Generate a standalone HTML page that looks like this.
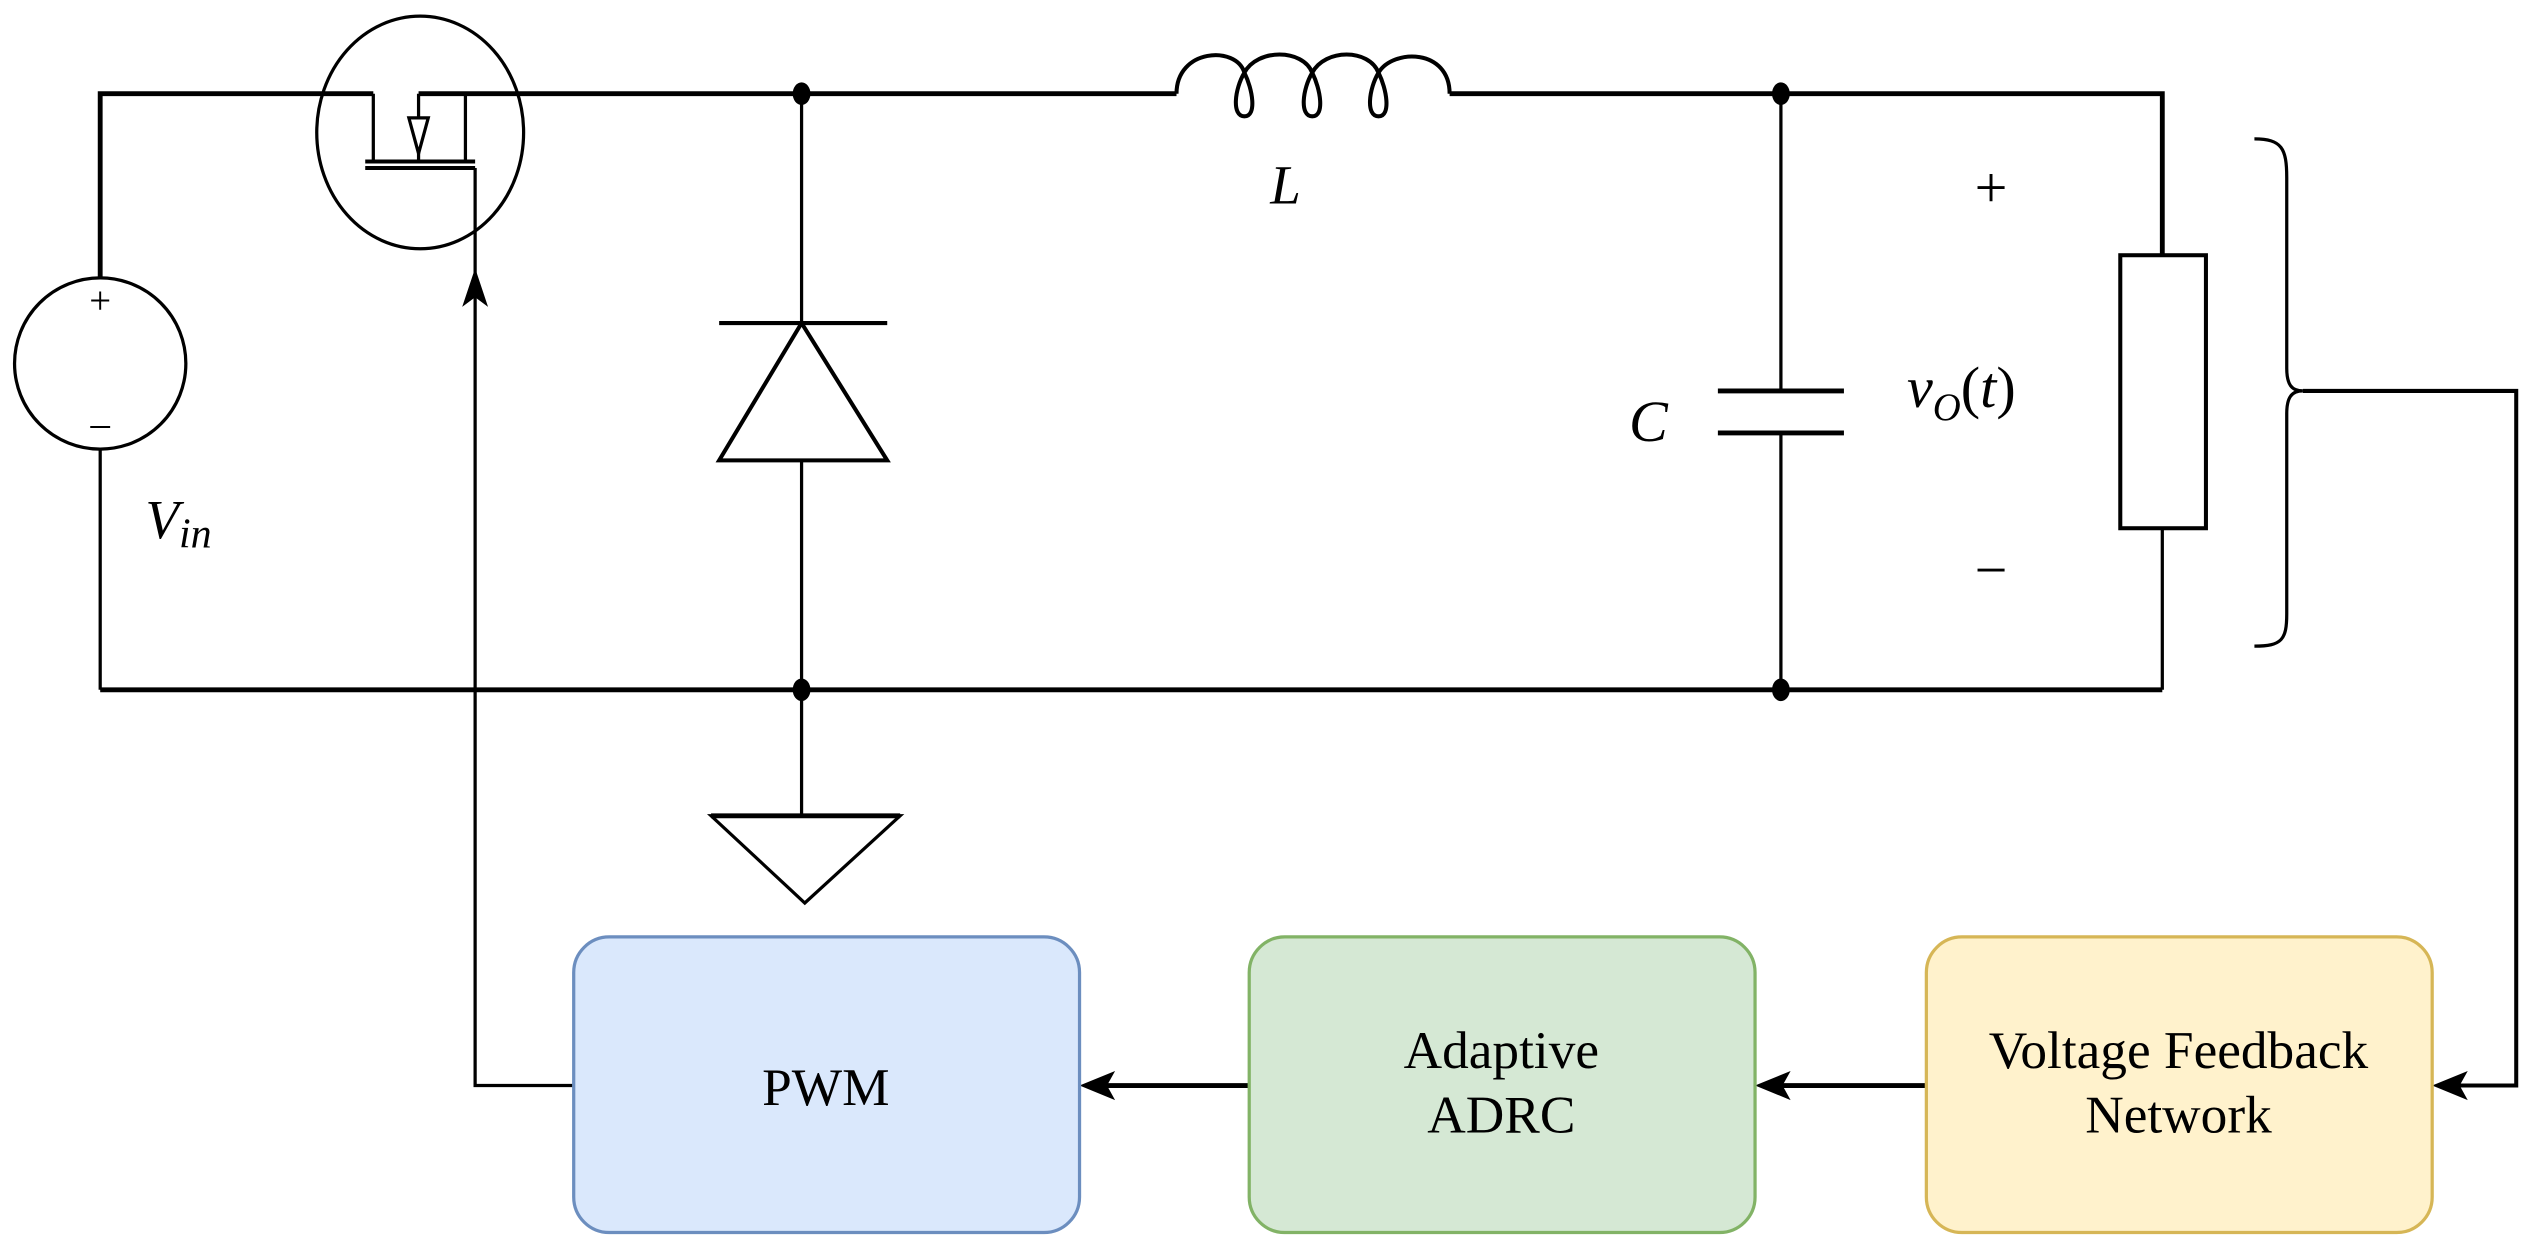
<!DOCTYPE html>
<html><head><meta charset="utf-8"><style>html,body{margin:0;padding:0;background:#fff}svg{display:block}</style></head>
<body>
<svg width="2534" height="1260" viewBox="0 0 1568 780" preserveAspectRatio="none" xmlns="http://www.w3.org/2000/svg">
<g fill="none" stroke="#000" stroke-width="2">
<path d="M62 172 V58 H231 M259 58 H728 M897 58 H1338 V158" stroke-width="3"/>
<path d="M62 277 V427 M1338 327 V427"/>
<path d="M62 427 H1338" stroke-width="3"/>
<circle cx="62" cy="225" r="53"/>
<ellipse cx="260" cy="82" rx="64" ry="72"/>
<path d="M231 58 V100 M288 58 V100 M259 58 V100"/>
<path d="M253 73 L265 73 L259 95 Z" fill="#fff"/>
<path d="M226 100 H294 M226 104 H294" stroke-width="2.5"/>
<path d="M294 104 V672 H355"/>
<path d="M496 58 V200 M496 285 V427 M496 427 V505"/>
<path d="M445 200 H549" stroke-width="2.5"/>
<path d="M496 200 L549 285 H445 Z" stroke-width="2.5"/>
<path d="M440 505 H557 L498 559 Z"/>
<path d="M440 505 H557" stroke-width="3"/>
<path d="M728 58 C728 30 765 28 770 45 C775 55 778 72 770 72 C762 72 764 55 770 45 C778 30 806 30 812 45 C817 55 820 72 812 72 C804 72 806 55 812 45 C820 30 847 30 853 45 C858 55 861 72 853 72 C845 72 847 55 853 45 C862 30 897 30 897 58" stroke-width="2.5"/>
<path d="M1102 58 V242 M1102 268 V427"/>
<path d="M1063 242 H1141 M1063 268 H1141" stroke-width="3"/>
<rect x="1312" y="158" width="53" height="169" stroke-width="2.5"/>
<path d="M1395 86 C1412 86 1415 92 1415 110 V228 C1415 238 1418 242 1425 242 C1418 242 1415 246 1415 256 V380 C1415 396 1412 400 1395 400"/>
<path d="M1425 242 H1557 V672 H1515" stroke-width="2.5"/>
<path d="M773 672 H680 M1192 672 H1098" stroke-width="3"/>
</g>
<g fill="#000">
<ellipse cx="496" cy="58" rx="5.5" ry="7"/>
<ellipse cx="1102" cy="58" rx="5.5" ry="7"/>
<ellipse cx="496" cy="427" rx="5.5" ry="7"/>
<ellipse cx="1102" cy="427" rx="5.5" ry="7"/>
<path d="M294 166 L286 190 L294 184 L302 190 Z"/>
<path d="M668 672 L690 663 L685 672 L690 681 Z"/>
<path d="M1086 672 L1108 663 L1103 672 L1108 681 Z"/>
<path d="M1505 672 L1527 663 L1522 672 L1527 681 Z"/>
</g>
<rect x="355" y="580" width="313" height="183" rx="22" fill="#dae8fc" stroke="#6c8ebf" stroke-width="2"/>
<rect x="773" y="580" width="313" height="183" rx="22" fill="#d5e8d4" stroke="#82b366" stroke-width="2"/>
<rect x="1192" y="580" width="313" height="183" rx="22" fill="#fff2cc" stroke="#d6b656" stroke-width="2"/>
<g font-family="Liberation Serif, serif" font-size="33" text-anchor="middle" fill="#000">
<text x="511" y="684">PWM</text>
<text x="929" y="661">Adaptive</text>
<text x="929" y="701">ADRC</text>
<text x="1348" y="661">Voltage Feedback</text>
<text x="1348" y="701">Network</text>
</g>
<g font-family="Liberation Serif, serif" fill="#000">
<text x="62" y="194" font-size="24" text-anchor="middle">+</text>
<text x="62" y="270" font-size="24" text-anchor="middle">–</text>
<text x="90" y="333" font-size="34" font-style="italic">V<tspan font-size="26" dy="6">in</tspan></text>
<text x="786" y="126" font-size="34" font-style="italic">L</text>
<text x="1008" y="273" font-size="36" font-style="italic">C</text>
<text x="1232" y="128" font-size="36" text-anchor="middle">+</text>
<text x="1232" y="365" font-size="36" text-anchor="middle">−</text>
<text x="1180" y="252" font-size="36"><tspan font-style="italic">v</tspan><tspan font-style="italic" font-size="24" dy="8">O</tspan><tspan dy="-8">(</tspan><tspan font-style="italic">t</tspan>)</text>
</g>
</svg>
</body></html>
